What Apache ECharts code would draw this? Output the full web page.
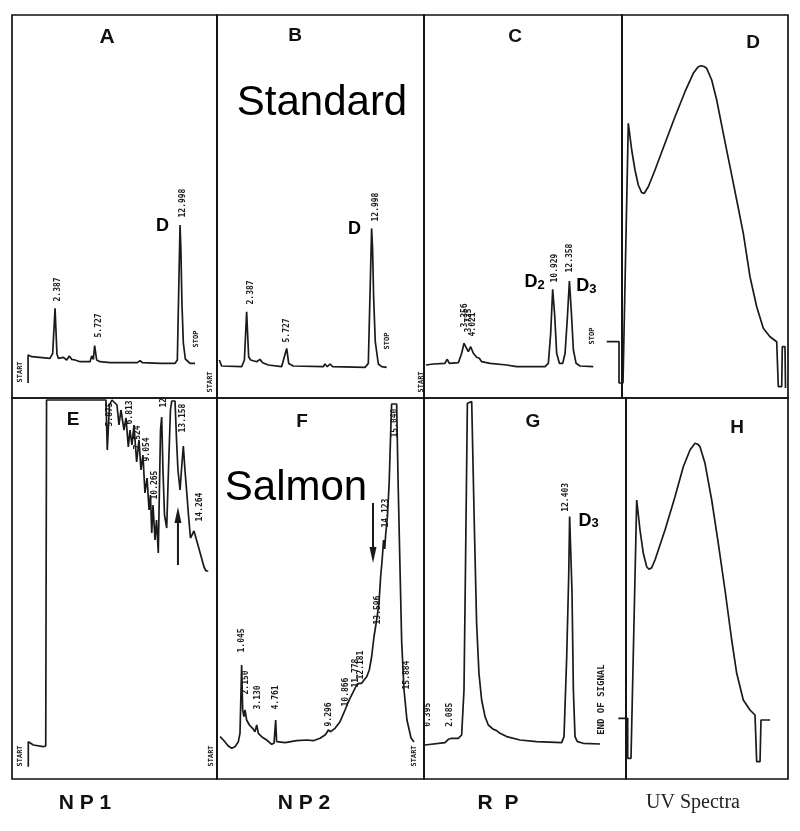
<!DOCTYPE html>
<html><head><meta charset="utf-8">
<script src="https://cdn.jsdelivr.net/npm/echarts@6/dist/echarts.min.js"></script>
<style>html,body{margin:0;padding:0;background:#fff}#c{width:800px;height:831px}</style>
</head><body><div id="c"></div>
<script>
// ===== DATA =====
// Chromatogram traces: [retention time (min), detector signal (arb.)]
const traceA = [[0.1,-20],[0.1,8],[0.41,6.3],[1.96,4.7],[2.19,9.7],[2.39,54.7],[2.55,9],[2.67,4.7],[3.10,5.7],[3.38,3],[3.60,7],[3.80,3.7],[4.09,3],[4.51,1.3],[5.36,1.3],[5.50,7],[5.64,3.7],[5.75,17.3],[5.92,3],[6.21,1.3],[7.06,0.3],[9.04,0.3],[9.18,2.3],[9.38,0.3],[9.60,2.3],[9.83,0.3],[11.30,-0.3],[12.58,-0.3],[12.77,3],[12.90,80],[13.00,138],[13.07,115],[13.16,60],[13.28,20],[13.45,4],[13.85,-0.3],[14.27,-0.3]];
const traceB = [[0.06,6.7],[0.26,0.7],[1.96,0],[2.19,6.7],[2.38,55],[2.55,10],[2.72,6.7],[3.23,5],[3.51,7.3],[3.74,4],[4.22,1.7],[5.35,0],[5.49,6],[5.64,4],[5.78,18.3],[5.95,3.3],[6.34,0.7],[8.89,0],[9.03,2.7],[9.23,0],[9.46,2.7],[9.68,0],[12.43,-0.7],[12.71,3.3],[12.88,85],[12.99,138.3],[13.07,118],[13.16,70],[13.30,25],[13.56,2.7],[13.84,0],[14.27,-0.7]];
const traceC = [[0.1,0],[0.73,1],[1.72,1.7],[1.92,5.7],[2.10,1.7],[2.87,2.3],[3.15,11.7],[3.35,21.7],[3.52,20],[3.72,13.3],[3.92,18.3],[4.15,11.7],[4.43,7.7],[4.66,6.7],[4.86,3.3],[5.58,1.7],[7.0,0],[7.85,-1.7],[10.27,-1.7],[10.56,1.7],[10.76,31.7],[10.93,75.7],[11.10,50],[11.27,11.7],[11.50,1.7],[11.79,1.7],[11.99,11.7],[12.19,48.3],[12.36,84],[12.53,52],[12.70,15],[12.93,1.7],[13.27,-1],[14.40,-1.7]];
const traceE = [[0,-21.7],[0,3.3],[0.43,0],[1.28,-1.7],[1.49,-1],[1.56,345],[6.64,345],[6.75,295],[6.94,340],[7.15,345],[7.58,340],[7.75,320],[7.92,335],[8.18,315],[8.35,327],[8.55,298],[8.69,315],[8.86,300],[9.03,320],[9.26,283],[9.46,305],[9.63,275],[9.80,290],[9.97,252],[10.15,267],[10.32,235],[10.44,250],[10.55,212],[10.66,240],[10.83,205],[10.96,225],[11.11,192],[11.30,315],[11.40,328],[11.51,275],[11.64,230],[11.83,217],[11.98,275],[12.15,335],[12.26,344],[12.54,344],[12.67,305],[12.79,275],[12.97,255],[13.09,275],[13.25,299],[13.39,275],[13.56,250],[13.69,230],[13.86,207],[13.99,210],[14.16,214],[14.33,212],[14.50,200],[14.76,189],[15.02,178],[15.19,174],[15.38,174]];
const traceF = [[0,8.3],[0.28,5],[0.70,-1],[0.99,-3.3],[1.27,-1.7],[1.56,3.3],[1.70,11.7],[1.84,80],[1.93,35],[2.04,28.3],[2.13,35],[2.27,25],[2.50,20],[2.78,16.7],[2.98,13.3],[3.13,20],[3.27,11.7],[3.55,8.3],[3.98,5],[4.41,0.7],[4.61,1.7],[4.75,25],[4.83,3.3],[4.97,2.3],[5.55,2.3],[6.54,4.3],[6.69,5.7],[7.40,5],[7.97,4.3],[8.54,6.7],[8.97,10],[9.11,12.3],[9.25,15],[9.45,13.3],[9.82,16.7],[10.25,23.3],[10.68,35],[10.91,41.7],[11.10,46.7],[11.39,53.3],[11.67,60],[11.90,61.7],[12.10,61.7],[12.30,65],[12.53,68.3],[12.75,75],[12.95,88],[13.15,108],[13.38,125],[13.58,142],[13.72,168],[13.85,185],[13.97,205],[14.07,196],[14.16,212],[14.30,228],[14.45,262],[14.60,320],[14.66,341],[15.09,341],[15.21,265],[15.38,175],[15.52,103],[15.72,55],[15.97,25],[16.32,7],[16.57,3]];
const traceG = [[0.13,-1.7],[0.27,0],[1.84,0.7],[2.12,4],[2.41,5],[2.98,5],[3.26,8.3],[3.46,53],[3.60,187],[3.75,340],[4.12,341.7],[4.20,340],[4.34,220],[4.54,120],[4.74,70],[4.97,43.3],[5.26,26.7],[5.54,18.3],[5.97,14],[6.25,12.7],[6.54,10],[7.11,6.7],[8.25,3.3],[9.67,1.7],[11.81,0.7],[12.01,6.7],[12.24,86.7],[12.41,166.7],[12.49,226.7],[12.58,225],[12.69,153],[12.81,53],[12.95,6.7],[13.15,1.7],[13.66,0],[15.09,-0.7]];
// UV spectra: [wavelength (nm), absorbance (arb.)]
const uvD = [[184.7,56.3],[197,56.3],[197,15],[201,15],[206.3,274.7],[209.7,248],[213,228],[216.3,213],[219.7,205.3],[222.3,204.7],[226.3,211.3],[233,228],[243,254.7],[253,281.3],[263,306.3],[271.3,324.7],[276,331],[279,332.3],[282,331.5],[284.7,329.7],[289.7,318],[294.7,298],[301.3,264.7],[308,231.3],[314.7,198],[321.3,164.7],[328,121.3],[334.7,91.3],[341.3,69.7],[348,61.3],[354.7,56.3],[356.3,11.3],[359.7,11.3],[360.3,51.3],[363,51.3],[363.5,10]];
const uvH = [[191.6,63.4],[201,63.4],[201,23.4],[204.3,23.4],[210,281.7],[213.3,251.7],[216.6,228.4],[220,215],[222.3,212.4],[225,214],[228.3,221.7],[238.3,251.7],[248.3,285],[256.6,315],[263.3,331.7],[268.3,338.4],[271,337.5],[273.3,335],[278.3,318.4],[285,281.7],[291.6,238.4],[298.3,191.7],[305,141.7],[310,108.4],[316.6,81.7],[323.3,71.7],[328.3,66.7],[330,20],[333.3,20],[334.3,61.7],[343.3,61.7]];
// Peak retention-time labels: [time, signal, text]
const peaksA = [[2.68,61,'2.387'],[6.12,25,'5.727'],[13.25,145,'12.998']];
const peaksB = [[2.75,61.7,'2.387'],[5.81,23.7,'5.727'],[13.36,144.7,'12.998']];
const peaksC = [[3.48,37,'3.356'],[3.83,32,'3.725'],[4.17,28,'4.021'],[11.13,82,'10.929'],[12.41,92,'12.358']];
const peaksE = [[6.98,318,'5.875'],[8.69,320,'6.813'],[9.38,295,'7.524'],[10.15,283,'9.054'],[10.83,245,'10.265'],[11.6,337,'12'],[13.22,312,'13.158'],[14.68,223,'14.264']];
const peaksF = [[1.93,92,'1.045'],[2.27,50,'2.150'],[3.27,35,'3.130'],[4.84,35,'4.761'],[9.33,18,'9.296'],[10.82,38,'10.866'],[11.67,57,'11.778'],[12.10,65,'12.181'],[13.5,120,'13.596'],[14.24,217,'14.123'],[14.95,307,'15.040'],[16.0,55,'15.884']];
const peaksG = [[0.41,16,'0.395'],[2.32,16,'2.085'],[12.24,231,'12.403']];
// Integrator event marks: [time, signal, text]
const eventsA = [[-0.5,-20,'START'],[14.44,15,'STOP']];
const eventsB = [[-0.65,-26.3,'START'],[14.38,16.7,'STOP']];
const eventsC = [[-0.24,-28,'START'],[14.38,20,'STOP']];
const eventsE = [[-0.65,-22,'START']];
const eventsF = [[-0.72,-22,'START']];
const eventsG = [[-0.73,-23.7,'START'],[15.26,8,'END OF SIGNAL']];
// Compound tags: [time, signal, text]
const tagsA = [[11.55,136,'D']];
const tagsB = [[11.58,136.7,'D']];
const tagsC = [[9.42,82,'D2'],[13.86,78,'D3']];
const tagsG = [[14.15,222,'D3']];
// Arrows: [time, tail signal, tip signal]
const arrowsE = [[12.79,180,238]];
const arrowsF = [[13.07,242,182]];

// ===== LAYOUT =====
// box = drawn frame; plot = data area (defaults to box)
const panels = [
  {box:[12,15,217,398],  x0:26.9,  sx:11.78, y0:363,   trace:traceA, peaks:peaksA, events:eventsA, tags:tagsA},
  {box:[217,15,424,398], x0:218.6, sx:11.78, y0:366.7, trace:traceB, peaks:peaksB, events:eventsB, tags:tagsB},
  {box:[424,15,622,398], x0:424.8, sx:11.7,  y0:365,   trace:traceC, peaks:peaksC, events:eventsC, tags:tagsC},
  {box:[622,15,788,398], plot:[596,15,790,398], x0:422, sx:1, y0:398, trace:uvD},
  {box:[12,398,217,779], x0:28.3,  sx:11.7,  y0:745,   trace:traceE, peaks:peaksE, events:eventsE, arrows:arrowsE},
  {box:[217,398,424,779],x0:220.1, sx:11.7,  y0:745,   trace:traceF, peaks:peaksF, events:eventsF, arrows:arrowsF},
  {box:[424,398,626,779],x0:423.5, sx:11.7,  y0:743.3, trace:traceG, peaks:peaksG, events:eventsG, tags:tagsG},
  {box:[626,398,788,779],plot:[600,398,790,779], x0:426.7, sx:1, y0:781.7, trace:uvH}
];
const INK = '#1a1a1a';
const HIDDEN = {color:'rgba(0,0,0,0)', opacity:1};
const grid=[], xAxis=[], yAxis=[], series=[];
let gi = 0;
panels.forEach(p=>{
  // frame grid
  const [f1,g1,f2,g2]=p.box;
  grid.push({left:f1, top:g1, width:f2-f1, height:g2-g1, show:true, borderColor:'#111', borderWidth:1.7, backgroundColor:'rgba(0,0,0,0)'});
  xAxis.push({type:'value', gridIndex:gi, min:0, max:1, show:false});
  yAxis.push({type:'value', gridIndex:gi, min:0, max:1, show:false});
  gi++;
  // data grid
  const [x1,y1,x2,y2]=p.plot || p.box;
  const i = gi++;
  grid.push({left:x1, top:y1, width:x2-x1, height:y2-y1, show:false});
  xAxis.push({type:'value', gridIndex:i, min:(x1-p.x0)/p.sx, max:(x2-p.x0)/p.sx, show:false, splitLine:{show:false}});
  yAxis.push({type:'value', gridIndex:i, min:-(y2-p.y0), max:(p.y0-y1), show:false, splitLine:{show:false}});
  const base = {xAxisIndex:i, yAxisIndex:i, animation:false, silent:true, clip:false};
  series.push(Object.assign({type:'line', data:p.trace, symbol:'none', lineStyle:{color:INK, width:1.7}}, base));
  const toItems = arr => arr.map(d=>({value:[d[0],d[1]], name:d[2]}));
  const tiny = {fontFamily:'DejaVu Sans Mono', fontWeight:'bold', color:'#1a1a1a', textBorderWidth:0, opacity:1};
  if (p.peaks) series.push(Object.assign({type:'scatter', data:toItems(p.peaks), symbolSize:1, itemStyle:HIDDEN,
    label:Object.assign({show:true, formatter:'{b}', rotate:90, position:[0,0], align:'left', verticalAlign:'middle', fontSize:8}, tiny)}, base));
  if (p.events) series.push(Object.assign({type:'scatter', data:p.events.map(d=>({value:[d[0],d[1]], name:d[2],
      label:{fontSize: d[2].length>6 ? 9 : 7}})), symbolSize:1, itemStyle:HIDDEN,
    label:Object.assign({show:true, formatter:'{b}', rotate:90, position:[0,0], align:'left', verticalAlign:'middle', fontSize:7}, tiny)}, base));
  if (p.tags) series.push(Object.assign({type:'scatter', data:toItems(p.tags), symbolSize:1, itemStyle:HIDDEN,
    label:{show:true, position:[0,0], align:'center', verticalAlign:'middle', color:'#000', textBorderWidth:0, opacity:1,
      formatter: q => '{a|'+q.name[0]+'}' + (q.name.length>1 ? '{b|'+q.name.slice(1)+'}' : ''),
      rich:{a:{fontFamily:'Liberation Sans', fontWeight:'bold', fontSize:18, color:'#000', lineHeight:20, textBorderWidth:0},
            b:{fontFamily:'Liberation Sans', fontWeight:'bold', fontSize:13, color:'#000', lineHeight:20, padding:[5,0,0,0], textBorderWidth:0}}}}, base));
  if (p.arrows) p.arrows.forEach(a=>{
    const dir = a[2]>a[1] ? 1 : -1, head = 16; // arrow-head length in signal units (1 unit = 1 px)
    series.push(Object.assign({type:'line', data:[[a[0],a[1]],[a[0],a[2]-dir*head*0.6]], symbol:'none', lineStyle:{color:INK, width:2}}, base));
    series.push(Object.assign({type:'scatter', data:[[a[0],a[2]-dir*head/2]], symbol:'triangle', symbolSize:[7,16],
      symbolRotate: dir>0 ? 0 : 180, itemStyle:{color:INK, opacity:1}}, base));
  });
});

const txt = (x,y,text,style)=>({type:'text', x, y, silent:true, style:Object.assign({text, align:'center', verticalAlign:'middle', fill:'#111'}, style)});
const letter = {fontFamily:'Liberation Sans', fontWeight:'bold', fontSize:19};
const big = {fontFamily:'Liberation Sans', fontSize:42, fill:'#000'};
const foot = {fontFamily:'Liberation Sans', fontWeight:'bold', fontSize:21};
const graphic = [
  txt(107,37,'A',Object.assign({},letter,{fontSize:21})), txt(295,36,'B',letter), txt(515,37,'C',letter), txt(753,43,'D',letter),
  txt(73,420,'E',letter), txt(302,422,'F',letter), txt(533,422,'G',letter), txt(737,428,'H',letter),
  txt(322,103,'Standard',big), txt(296,488,'Salmon',big),
  txt(85,803,'N P 1',foot),
  txt(304,803,'N P 2',foot),
  txt(498,803,'R  P',foot),
  txt(693,803,'UV Spectra',{fontFamily:'Liberation Serif', fontSize:20, fill:'#222'})
];

const chart = echarts.init(document.getElementById('c'), null, {renderer:'canvas'});
chart.setOption({animation:false, backgroundColor:'#fff', grid, xAxis, yAxis, series, graphic});
</script></body></html>
